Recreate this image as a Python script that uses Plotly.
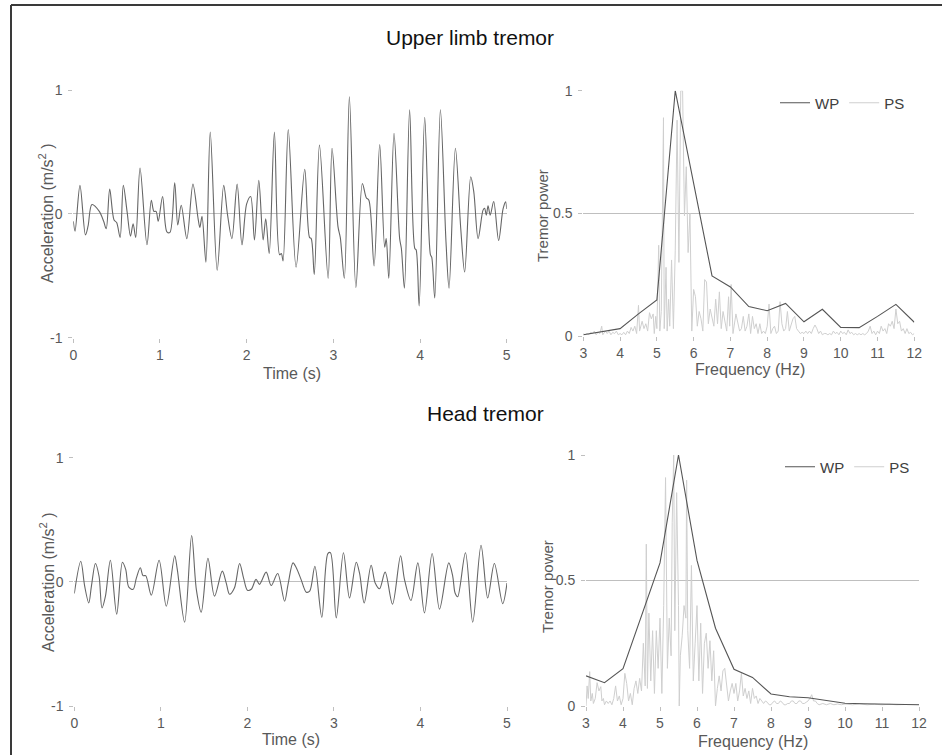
import plotly.graph_objects as go

W, H = 942, 755

# ---- upper limb tremor, acceleration trace ----
t_upper = [0.00, 0.02, 0.077, 0.14, 0.17, 0.215, 0.30, 0.35, 0.38, 0.42, 0.47, 0.50, 0.54, 0.577,
           0.62, 0.66, 0.69, 0.72, 0.77, 0.85, 0.90, 0.93, 0.955, 0.98, 1.03, 1.08, 1.115, 1.17,
           1.205, 1.245, 1.31, 1.38, 1.44, 1.46, 1.485, 1.53, 1.58, 1.66, 1.735, 1.78, 1.83, 1.89,
           1.946, 2.0, 2.046, 2.09, 2.14, 2.19, 2.22, 2.26, 2.32, 2.38, 2.40, 2.42, 2.48, 2.57,
           2.67, 2.725, 2.745, 2.78, 2.84, 2.94, 2.985, 3.054, 3.08, 3.127, 3.185, 3.26, 3.335,
           3.38, 3.41, 3.47, 3.535, 3.592, 3.61, 3.64, 3.70, 3.765, 3.785, 3.82, 3.88, 3.94,
           3.955, 3.99, 4.054, 4.12, 4.135, 4.17, 4.235, 4.30, 4.335, 4.408, 4.47, 4.515, 4.585,
           4.62, 4.67, 4.727, 4.745, 4.765, 4.785, 4.81, 4.85, 4.907, 4.958, 4.988, 5.0]
acc_upper = [-0.06, -0.14, 0.23, -0.17, -0.10, 0.075, 0.02, -0.06, -0.12, 0.20, -0.05, -0.07, -0.19, 0.23,
             0.02, -0.18, -0.08, -0.19, 0.37, -0.25, 0.11, 0.02, 0.02, -0.06, 0.14, -0.145, -0.15, 0.25,
             -0.09, 0.07, -0.20, 0.24, -0.04, -0.11, -0.02, -0.39, 0.66, -0.455, 0.23, -0.01, -0.20, 0.24,
             -0.25, 0.08, 0.14, -0.21, 0.27, -0.21, -0.04, -0.32, 0.66, -0.33, -0.32, -0.38, 0.68, -0.43,
             0.36, -0.19, -0.20, -0.49, 0.555, -0.52, 0.53, -0.105, -0.19, -0.52, 0.946, -0.595, 0.245,
             0.13, 0.11, -0.42, 0.56, -0.27, -0.20, -0.52, 0.65, -0.20, -0.28, -0.60, 0.84, -0.28,
             -0.29, -0.744, 0.78, -0.33, -0.35, -0.68, 0.84, -0.23, -0.60, 0.53, -0.12, -0.47, 0.30,
             0.18, -0.20, 0.03, 0.045, -0.01, 0.065, -0.01, 0.10, -0.215, 0.04, 0.097, 0.04]

# ---- head tremor, acceleration trace ----
t_head = [0.0, 0.075, 0.12, 0.167, 0.198, 0.244, 0.286, 0.32, 0.36, 0.417, 0.49, 0.556, 0.594, 0.63,
          0.68, 0.717, 0.763, 0.794, 0.825, 0.89, 0.98, 1.063, 1.16, 1.19, 1.275, 1.356, 1.41, 1.467,
          1.544, 1.62, 1.71, 1.756, 1.794, 1.85, 1.91, 1.956, 2.0, 2.045, 2.10, 2.14, 2.217, 2.275,
          2.35, 2.43, 2.47, 2.527, 2.565, 2.62, 2.68, 2.72, 2.78, 2.86, 2.93, 2.96, 3.027, 3.11,
          3.18, 3.258, 3.296, 3.35, 3.43, 3.477, 3.527, 3.592, 3.677, 3.77, 3.815, 3.89, 3.97,
          4.046, 4.135, 4.22, 4.327, 4.373, 4.40, 4.43, 4.52, 4.604, 4.70, 4.777, 4.854, 4.95, 5.0]
acc_head = [-0.094, 0.166, -0.035, -0.17, -0.035, 0.148, 0.045, -0.21, -0.115, 0.174, -0.26, 0.158, 0.10, -0.043,
            -0.06, 0.03, 0.113, 0.05, 0.05, -0.107, 0.174, -0.196, 0.21, 0.10, -0.325, 0.373, -0.06, -0.244,
            0.19, -0.115, 0.086, -0.01, -0.10, -0.05, 0.148, 0.03, -0.067, -0.06, 0.02, -0.02, 0.078, -0.03,
            0.067, -0.156, -0.02, 0.153, 0.113, 0.02, -0.083, -0.075, 0.126, -0.285, 0.228, 0.235, -0.29, 0.234,
            -0.13, 0.158, 0.07, -0.17, 0.134, -0.01, -0.056, 0.078, -0.18, 0.21, 0.02, -0.15, 0.153,
            -0.25, 0.228, -0.22, 0.153, 0.045, -0.09, -0.12, 0.234, -0.325, 0.295, -0.13, 0.148, -0.175, -0.01]

# ---- wavelet power (WP), 0.5 Hz steps ----
wp_freq = [3, 3.5, 4, 4.5, 5, 5.5, 6, 6.5, 7, 7.5, 8, 8.5, 9, 9.5, 10, 10.5, 11, 11.5, 12]
wp_upper = [0.005, 0.017, 0.03, 0.09, 0.147, 1.0, 0.62, 0.245, 0.20, 0.12, 0.103, 0.133, 0.058, 0.109,
            0.035, 0.034, 0.08, 0.129, 0.056]
wp_head = [0.12, 0.093, 0.149, 0.36, 0.57, 1.0, 0.58, 0.31, 0.146, 0.114, 0.048, 0.037, 0.033, 0.022,
           0.011, 0.009, 0.007, 0.005, 0.005]

# ---- power spectrum (PS) ----
ps_upper_freq = [3.00, 3.05, 3.1, 3.15, 3.2, 3.25, 3.3, 3.35, 3.4, 3.45, 3.5, 3.53, 3.6, 3.65, 3.7, 3.75,
                 3.8, 3.85, 3.9, 3.95, 4.0, 4.05, 4.1, 4.15, 4.2, 4.25, 4.3, 4.35, 4.4, 4.45, 4.5, 4.53,
                 4.6, 4.65, 4.7, 4.75, 4.8, 4.85, 4.9, 4.93, 4.97, 5.0, 5.05, 5.08, 5.12, 5.18, 5.2, 5.25,
                 5.28, 5.32, 5.35, 5.4, 5.45, 5.5, 5.55, 5.6, 5.65, 5.7, 5.75, 5.8, 5.85, 5.9, 5.95, 6.0,
                 6.05, 6.1, 6.15, 6.2, 6.25, 6.3, 6.35, 6.4, 6.45, 6.5, 6.55, 6.6, 6.65, 6.7, 6.75, 6.8,
                 6.85, 6.9, 6.95, 6.98, 7.02, 7.07, 7.15, 7.2, 7.25, 7.3, 7.35, 7.4, 7.45, 7.5, 7.55, 7.6,
                 7.65, 7.7, 7.75, 7.8, 7.85, 7.9, 7.95, 8.0, 8.05, 8.1, 8.15, 8.2, 8.25, 8.3, 8.35, 8.4,
                 8.45, 8.5, 8.55, 8.6, 8.65, 8.7, 8.75, 8.8, 8.85, 8.9, 8.95, 9.0, 9.05, 9.1, 9.15, 9.2,
                 9.25, 9.3, 9.35, 9.4, 9.45, 9.5, 9.55, 9.6, 9.65, 9.7, 9.75, 9.8, 9.85, 9.9, 9.95, 10.0,
                 10.05, 10.1, 10.15, 10.2, 10.25, 10.3, 10.35, 10.4, 10.45, 10.5, 10.55, 10.6, 10.65,
                 10.7, 10.75, 10.8, 10.85, 10.9, 10.95, 11.0, 11.05, 11.1, 11.15, 11.2, 11.25, 11.3,
                 11.35, 11.4, 11.45, 11.5, 11.55, 11.6, 11.65, 11.7, 11.75, 11.8, 11.85, 11.9, 11.95, 12.0]
ps_upper = [0.01, 0.005, 0.01, 0.005, 0.015, 0.01, 0.02, 0.005, 0.015, 0.01, 0.04, 0.005, 0.02, 0.01, 0.02, 0.005,
            0.015, 0.01, 0.02, 0.005, 0.01, 0.005, 0.015, 0.005, 0.02, 0.01, 0.035, 0.02, 0.04, 0.01, 0.125, 0.02,
            0.06, 0.03, 0.05, 0.02, 0.095, 0.07, 0.09, 0.01, 0.08, 0.03, 0.37, 0.02, 0.10, 0.89, 0.03, 0.28,
            0.02, 0.15, 0.04, 0.31, 0.03, 0.35, 0.88, 0.30, 1.0, 1.0, 0.49, 0.69, 0.34, 0.50, 0.02, 0.19,
            0.16, 0.04, 0.10, 0.07, 0.02, 0.23, 0.22, 0.05, 0.11, 0.08, 0.04, 0.15, 0.05, 0.18, 0.03, 0.10,
            0.06, 0.02, 0.16, 0.04, 0.21, 0.01, 0.09, 0.05, 0.02, 0.03, 0.08, 0.02, 0.04, 0.09, 0.01, 0.08,
            0.03, 0.05, 0.01, 0.05, 0.01, 0.02, 0.01, 0.04, 0.13, 0.01, 0.03, 0.04, 0.01, 0.02, 0.14, 0.05,
            0.02, 0.03, 0.10, 0.02, 0.05, 0.07, 0.08, 0.03, 0.02, 0.01, 0.015, 0.01, 0.02, 0.01, 0.02, 0.01,
            0.03, 0.045, 0.03, 0.01, 0.02, 0.005, 0.01, 0.01, 0.005, 0.01, 0.005, 0.02, 0.01, 0.015, 0.005, 0.02,
            0.01, 0.015, 0.005, 0.025, 0.01, 0.015, 0.005, 0.01, 0.005, 0.01, 0.005, 0.01, 0.005,
            0.01, 0.02, 0.04, 0.01, 0.02, 0.005, 0.02, 0.01, 0.04, 0.02, 0.03, 0.01, 0.05,
            0.04, 0.06, 0.03, 0.11, 0.05, 0.06, 0.02, 0.03, 0.01, 0.03, 0.01, 0.015, 0.005, 0.01]

ps_head_freq = [3.0, 3.03, 3.06, 3.1, 3.13, 3.17, 3.2, 3.25, 3.3, 3.35, 3.4, 3.43, 3.47, 3.5, 3.55, 3.6,
                3.65, 3.7, 3.75, 3.8, 3.85, 3.9, 3.95, 4.0, 4.05, 4.1, 4.15, 4.2, 4.25, 4.3, 4.35, 4.4,
                4.45, 4.5, 4.55, 4.6, 4.63, 4.66, 4.7, 4.75, 4.8, 4.85, 4.9, 4.95, 5.0, 5.05, 5.1, 5.15,
                5.2, 5.25, 5.3, 5.33, 5.37, 5.4, 5.45, 5.5, 5.52, 5.55, 5.6, 5.65, 5.7, 5.72, 5.75, 5.8,
                5.85, 5.9, 5.95, 6.0, 6.05, 6.1, 6.15, 6.2, 6.25, 6.3, 6.35, 6.4, 6.45, 6.5, 6.55, 6.6,
                6.65, 6.7, 6.75, 6.8, 6.85, 6.9, 6.95, 7.0, 7.05, 7.1, 7.15, 7.2, 7.25, 7.3, 7.35, 7.4,
                7.45, 7.5, 7.55, 7.6, 7.65, 7.7, 7.75, 7.8, 7.85, 7.9, 7.95, 8.0, 8.05, 8.1, 8.15, 8.2,
                8.25, 8.3, 8.35, 8.4, 8.45, 8.5, 8.55, 8.6, 8.65, 8.7, 8.75, 8.8, 8.85, 8.9, 8.95, 9.0,
                9.05, 9.1, 9.15, 9.2, 9.25, 9.3, 9.4, 9.5, 9.6, 9.7, 9.8, 9.9, 10.0, 10.2, 10.4, 10.6,
                10.8, 11.0, 11.2, 11.4, 11.6, 11.8, 12.0]
ps_head = [0.0, 0.08, 0.03, 0.137, 0.02, 0.05, 0.01, 0.03, 0.093, 0.06, 0.077, 0.02, 0.03, 0.005, 0.02, 0.01,
           0.02, 0.005, 0.03, 0.08, 0.02, 0.04, 0.005, 0.03, 0.13, 0.09, 0.02, 0.05, 0.005, 0.07, 0.10, 0.05,
           0.11, 0.06, 0.25, 0.08, 0.645, 0.07, 0.37, 0.10, 0.30, 0.05, 0.30, 0.15, 0.35, 0.05, 0.40, 0.91,
           0.15, 0.35, 0.20, 0.73, 1.0, 0.30, 0.85, 0.40, 0.0, 0.20, 0.28, 0.40, 0.35, 0.90, 0.30, 0.15,
           0.56, 0.10, 0.25, 0.40, 0.10, 0.33, 0.05, 0.25, 0.29, 0.15, 0.26, 0.10, 0.22, 0.0, 0.07, 0.12,
           0.06, 0.14, 0.15, 0.08, 0.02, 0.06, 0.09, 0.05, 0.09, 0.02, 0.06, 0.13, 0.04, 0.07, 0.03, 0.06,
           0.01, 0.07, 0.03, 0.04, 0.01, 0.03, 0.02, 0.01, 0.02, 0.015, 0.005, 0.005, 0.015, 0.02, 0.01, 0.01,
           0.02, 0.015, 0.005, 0.005, 0.01, 0.01, 0.02, 0.02, 0.01, 0.01, 0.02, 0.02, 0.01, 0.01, 0.015, 0.02,
           0.03, 0.045, 0.02, 0.02, 0.01, 0.005, 0.01, 0.005, 0.01, 0.005, 0.008, 0.005, 0.008, 0.005, 0.008, 0.005,
           0.007, 0.005, 0.007, 0.005, 0.006, 0.005, 0.006]

SIG = "#666666"
WP_C = "#555555"
PS_C = "#cfcfcf"
AX = "#bfbfbf"
TXT = "#595959"
FONT = "Liberation Sans, Arial, sans-serif"


def px_x(p):
    return p / W


def px_y(p):
    return 1 - p / H


fig = go.Figure()
fig.add_trace(go.Scatter(x=t_upper, y=acc_upper, mode="lines", line=dict(color=SIG, width=1.1, shape="spline", smoothing=0.9),
                         xaxis="x", yaxis="y", showlegend=False))
fig.add_trace(go.Scatter(x=wp_freq, y=wp_upper, mode="lines", name="WP", line=dict(color=WP_C, width=1.1),
                         xaxis="x2", yaxis="y2", legend="legend", zorder=2))
fig.add_trace(go.Scatter(x=ps_upper_freq, y=ps_upper, mode="lines", name="PS", line=dict(color=PS_C, width=1),
                         xaxis="x2", yaxis="y2", legend="legend", zorder=1))
fig.add_trace(go.Scatter(x=t_head, y=acc_head, mode="lines", line=dict(color=SIG, width=1.1, shape="spline", smoothing=0.9),
                         xaxis="x3", yaxis="y3", showlegend=False))
fig.add_trace(go.Scatter(x=wp_freq, y=wp_head, mode="lines", name="WP", line=dict(color=WP_C, width=1.1),
                         xaxis="x4", yaxis="y4", legend="legend2", zorder=2))
fig.add_trace(go.Scatter(x=ps_head_freq, y=ps_head, mode="lines", name="PS", line=dict(color=PS_C, width=1),
                         xaxis="x4", yaxis="y4", legend="legend2", zorder=1))

base = dict(showline=True, linecolor=AX, linewidth=1, mirror=True, ticks="outside", ticklen=4,
            tickcolor=AX, tickfont=dict(size=14, color=TXT, family=FONT), showgrid=False, zeroline=False,
            fixedrange=True, automargin=False)
time_x = dict(base, range=[0, 5], tickvals=[0, 1, 2, 3, 4, 5])
time_y = dict(base, range=[-1, 1], tickvals=[-1, 0, 1], ticktext=["-1", "0", "1"], showgrid=True,
              gridcolor=AX, gridwidth=1, ticklabelstandoff=3)
freq_x = dict(base, range=[3, 12], tickvals=list(range(3, 13)))
freq_y = dict(base, range=[0, 1], tickvals=[0, 0.5, 1], ticktext=["0", "0.5", "1"], showgrid=True,
              gridcolor=AX, gridwidth=1, ticklabelstandoff=3)

fig.update_layout(
    template="none",
    width=W, height=H, margin=dict(l=0, r=0, t=0, b=0, pad=0, autoexpand=False),
    paper_bgcolor="white", plot_bgcolor="white",
    font=dict(family=FONT, color=TXT),
    xaxis=dict(time_x, domain=[px_x(73.3), px_x(506.7)], anchor="y"),
    yaxis=dict(time_y, domain=[px_y(337.7), px_y(90)], anchor="x"),
    xaxis2=dict(freq_x, domain=[px_x(583.3), px_x(914.3)], anchor="y2"),
    yaxis2=dict(freq_y, domain=[px_y(336), px_y(90.7)], anchor="x2"),
    xaxis3=dict(time_x, domain=[px_x(74.3), px_x(507)], anchor="y3"),
    yaxis3=dict(time_y, domain=[px_y(706), px_y(457.7)], anchor="x3"),
    xaxis4=dict(freq_x, domain=[px_x(586), px_x(919)], anchor="y4"),
    yaxis4=dict(freq_y, domain=[px_y(706), px_y(455)], anchor="x4"),
    legend=dict(orientation="h", x=px_x(910), xanchor="right", y=px_y(103), yanchor="middle",
                bgcolor="rgba(0,0,0,0)", font=dict(size=15, color="#404040"), itemwidth=30),
    legend2=dict(orientation="h", x=px_x(915), xanchor="right", y=px_y(467), yanchor="middle",
                 bgcolor="rgba(0,0,0,0)", font=dict(size=15, color="#404040"), itemwidth=30),
)

ann = [
    ("Upper limb tremor", 470, 38, 0, 21, "#111111"),
    ("Head tremor", 485, 413, 0, 21, "#111111"),
    ("Acceleration (m/s<sup>2</sup> )", 46, 213, -90, 16, TXT),
    ("Acceleration (m/s<sup>2</sup> )", 47, 582, -90, 16, TXT),
    ("Time (s)", 292, 373, 0, 16, TXT),
    ("Time (s)", 291, 739, 0, 16, TXT),
    ("Tremor power", 543, 216, -90, 15, TXT),
    ("Tremor power", 547, 587, -90, 15, TXT),
    ("Frequency (Hz)", 750, 369, 0, 16, TXT),
    ("Frequency (Hz)", 753, 741, 0, 16, TXT),
]
for text, x, y, ang, size, col in ann:
    fig.add_annotation(text=text, x=px_x(x), y=px_y(y), xref="paper", yref="paper", showarrow=False,
                       xanchor="center", yanchor="middle", textangle=ang,
                       font=dict(size=size, color=col, family=FONT))

# outer frame (only top and left edges are visible in the original)
fig.add_shape(type="line", xref="paper", yref="paper", x0=px_x(11), x1=1.0, y0=px_y(5), y1=px_y(5),
              line=dict(color="#3a3a3a", width=2))
fig.add_shape(type="line", xref="paper", yref="paper", x0=px_x(11), x1=px_x(11), y0=0, y1=px_y(5),
              line=dict(color="#3a3a3a", width=2))

# drop the browser's default 8px body margin so the 942x755 figure fills the window exactly
fig.write_html("out.html", config={"displayModeBar": False},
               post_script="document.body.style.margin='0px';")
